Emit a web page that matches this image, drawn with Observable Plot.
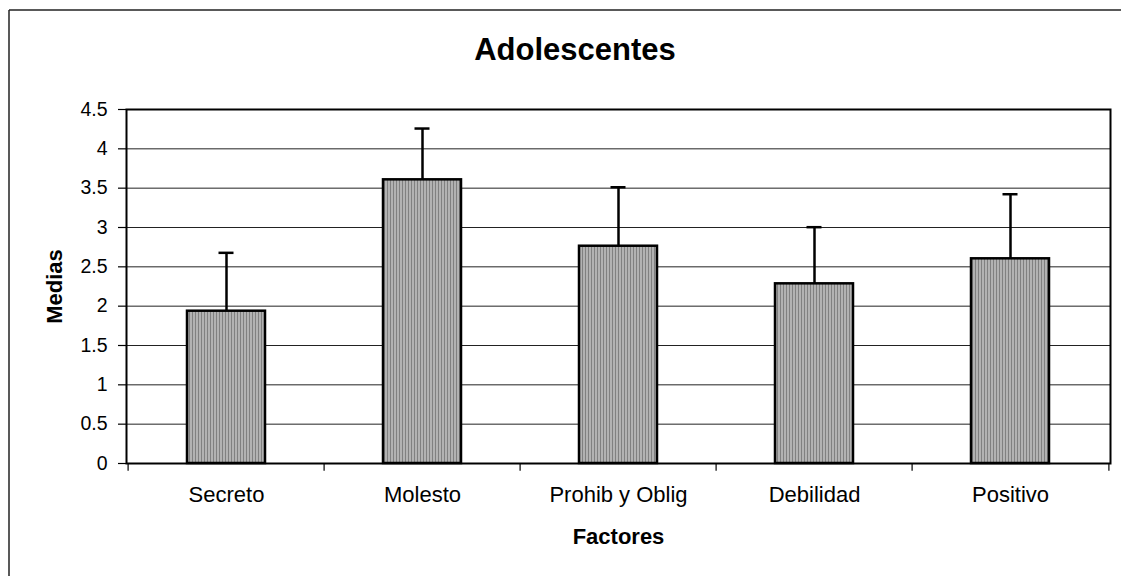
<!DOCTYPE html>
<html>
<head>
<meta charset="utf-8">
<script src="https://cdn.jsdelivr.net/npm/d3@7"></script>
<script src="https://cdn.jsdelivr.net/npm/@observablehq/plot@0.6"></script>
<style>
  html, body { margin: 0; padding: 0; background: #fff; }
  #chart { width: 1121px; height: 576px; }
</style>
</head>
<body>
<div id="chart"></div>
<script>
const categories = ["Secreto", "Molesto", "Prohib y Oblig", "Debilidad", "Positivo"];
const means = [1.936, 3.606, 2.762, 2.284, 2.602];
const upper = [2.678, 4.258, 3.512, 3.004, 3.423];
const yTicks = [0, 0.5, 1, 1.5, 2, 2.5, 3, 3.5, 4, 4.5];
const gridTicks = [0.5, 1, 1.5, 2, 2.5, 3, 3.5, 4];
const title = "Adolescentes";
const xTitle = "Factores";
const yTitle = "Medias";

const data = categories.map((c, i) => ({cat: c, mean: means[i], hi: upper[i]}));

const W = 1121, H = 576;
const mL = 126, mR = 11, mT = 109, mB = 113;
const halfStep = (W - mL - mR) / categories.length / 2;
const font = "'Liberation Sans', Arial, sans-serif";

const defs = () => {
  const g = d3.create("svg:defs");
  const p = g.append("pattern").attr("id", "stripes").attr("patternUnits", "userSpaceOnUse")
    .attr("width", 3).attr("height", 10);
  p.append("rect").attr("width", 3).attr("height", 10).attr("fill", "#b2b2b2");
  p.append("rect").attr("width", 1).attr("height", 10).attr("fill", "#808080");
  return g.node();
};

const border = () => {
  const g = d3.create("svg:g").attr("stroke", "#222").attr("stroke-width", 1.5);
  g.append("line").attr("x1", 9).attr("x2", W).attr("y1", 10).attr("y2", 10);
  g.append("line").attr("x1", 9).attr("x2", 9).attr("y1", 10).attr("y2", H);
  return g.node();
};

const chart = Plot.plot({
  width: W,
  height: H,
  marginLeft: mL,
  marginRight: mR,
  marginTop: mT,
  marginBottom: mB,
  style: {fontFamily: font, background: "#fff", overflow: "visible"},
  x: {domain: categories, paddingInner: 0.6, paddingOuter: 0.3, label: null},
  y: {domain: [0, 4.5], label: null},
  marks: [
    defs,
    border,
    Plot.gridY(gridTicks, {stroke: "#222", strokeOpacity: 1, strokeWidth: 1}),
    Plot.axisY(yTicks, {tickSize: 8, tickPadding: 11, tickFormat: d => String(d), fontSize: 19.5, stroke: "#000", strokeWidth: 1.2, fill: "#000", label: null}),
    Plot.axisX({tickSize: 0, tickPadding: 23, fontSize: 22, fill: "#000", label: null}),
    Plot.ruleX(categories, {x: d => d, dx: -halfStep, y1: 0, y2: -0.1, stroke: "#000", strokeWidth: 1.2}),
    Plot.ruleX(categories.slice(-1), {x: d => d, dx: halfStep, y1: 0, y2: -0.1, stroke: "#000", strokeWidth: 1.2}),
    Plot.ruleX(data, {x: "cat", y1: "mean", y2: "hi", stroke: "#000", strokeWidth: 2.5}),
    Plot.tickY(data, {x: "cat", y: "hi", stroke: "#000", strokeWidth: 2.5, insetLeft: 31.5, insetRight: 31.5}),
    Plot.barY(data, {x: "cat", y: "mean", fill: "url(#stripes)", stroke: "#000", strokeWidth: 2.5}),
    Plot.frame({stroke: "#000", strokeWidth: 2}),
    Plot.text([title], {text: d => d, frameAnchor: "top", lineAnchor: "bottom", dx: -43.5, dy: -49.7, fontSize: 31, fontWeight: "bold", fill: "#000"}),
    Plot.text([xTitle], {text: d => d, frameAnchor: "bottom", lineAnchor: "bottom", dy: 80, fontSize: 22, fontWeight: "bold", fill: "#000"}),
    Plot.text([yTitle], {text: d => d, frameAnchor: "left", textAnchor: "middle", lineAnchor: "bottom", rotate: -90, dx: -65, fontSize: 22, fontWeight: "bold", fill: "#000"})
  ]
});

document.getElementById("chart").appendChild(chart);
</script>
</body>
</html>
